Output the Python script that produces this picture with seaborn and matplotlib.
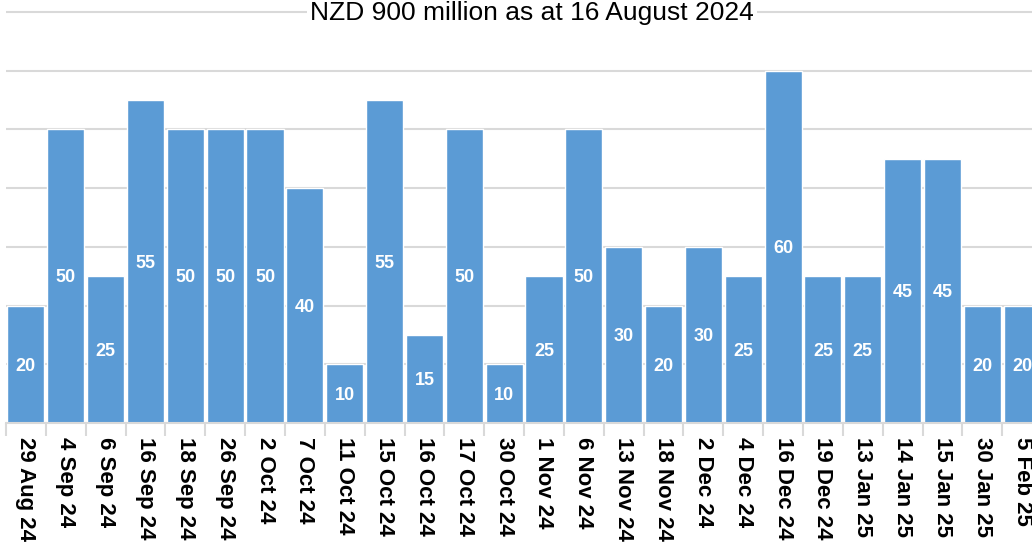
import numpy as np
import pandas as pd
import seaborn as sns
import matplotlib.pyplot as plt

# issue dates and amounts (NZD million)
dates = ["29 Aug 24", "4 Sep 24", "6 Sep 24", "16 Sep 24", "18 Sep 24", "26 Sep 24",
         "2 Oct 24", "7 Oct 24", "11 Oct 24", "15 Oct 24", "16 Oct 24", "17 Oct 24",
         "30 Oct 24", "1 Nov 24", "6 Nov 24", "13 Nov 24", "18 Nov 24", "2 Dec 24",
         "4 Dec 24", "16 Dec 24", "19 Dec 24", "13 Jan 25", "14 Jan 25", "15 Jan 25",
         "30 Jan 25", "5 Feb 25"]
amounts = [20, 50, 25, 55, 50, 50, 50, 40, 10, 55, 15, 50, 10, 25, 50, 30, 20, 30,
           25, 60, 25, 25, 45, 45, 20, 20]
grid_levels = [0, 10, 20, 30, 40, 50, 60, 70]
title = "NZD 900 million as at 16 August 2024"

df = pd.DataFrame({"date": dates, "amount": amounts})

sns.set_theme(style="white")
plt.rcParams['font.family'] = ['Liberation Sans', 'DejaVu Sans']

fig = plt.figure(figsize=(10.32, 5.43), dpi=100)
ax = fig.add_axes([6 / 1032, 120 / 543, 1026 / 1032, 423 / 543])

sns.barplot(data=df, x="date", y="amount", color="#5B9BD5", saturation=1,
            width=0.93, ax=ax, zorder=2)

# value labels in the middle of each bar
for i, v in enumerate(amounts):
    ax.text(i, v / 2 - 0.3, str(v), ha="center", va="center", color="white",
            fontsize=13, fontweight="bold", zorder=3)

ax.set_ylim(0, 72.05)
ax.set_xlim(-0.5, -0.5 + 1026 / 39.85)
ax.set_yticks(grid_levels)
ax.set_yticklabels([])
ax.yaxis.grid(True, color="#d9d9d9", linewidth=1.5, zorder=0)
ax.set_axisbelow(True)
ax.set_xlabel("")
ax.set_ylabel("")

for s in ["top", "right", "left"]:
    ax.spines[s].set_visible(False)
ax.spines["bottom"].set_color("#d9d9d9")
ax.spines["bottom"].set_linewidth(1.5)

# tick marks between categories, labels at category centres
ax.set_xticks(np.arange(len(dates)) - 0.5, minor=True)
ax.tick_params(axis="x", which="minor", length=9, width=1.5, color="#d9d9d9",
               direction="out", bottom=True)
ax.tick_params(axis="x", which="major", length=0, pad=10)
ax.set_xticks(np.arange(len(dates)))
ax.set_xticklabels(dates, rotation=270, ha="center", va="top",
                   fontsize=16, fontweight="bold", color="black")

fig.text(532 / 1032, 1 - 13 / 543, title, ha="center", va="center", fontsize=19,
         color="black", bbox=dict(facecolor="white", edgecolor="none", pad=2))

fig.savefig("out.png", dpi=100)
